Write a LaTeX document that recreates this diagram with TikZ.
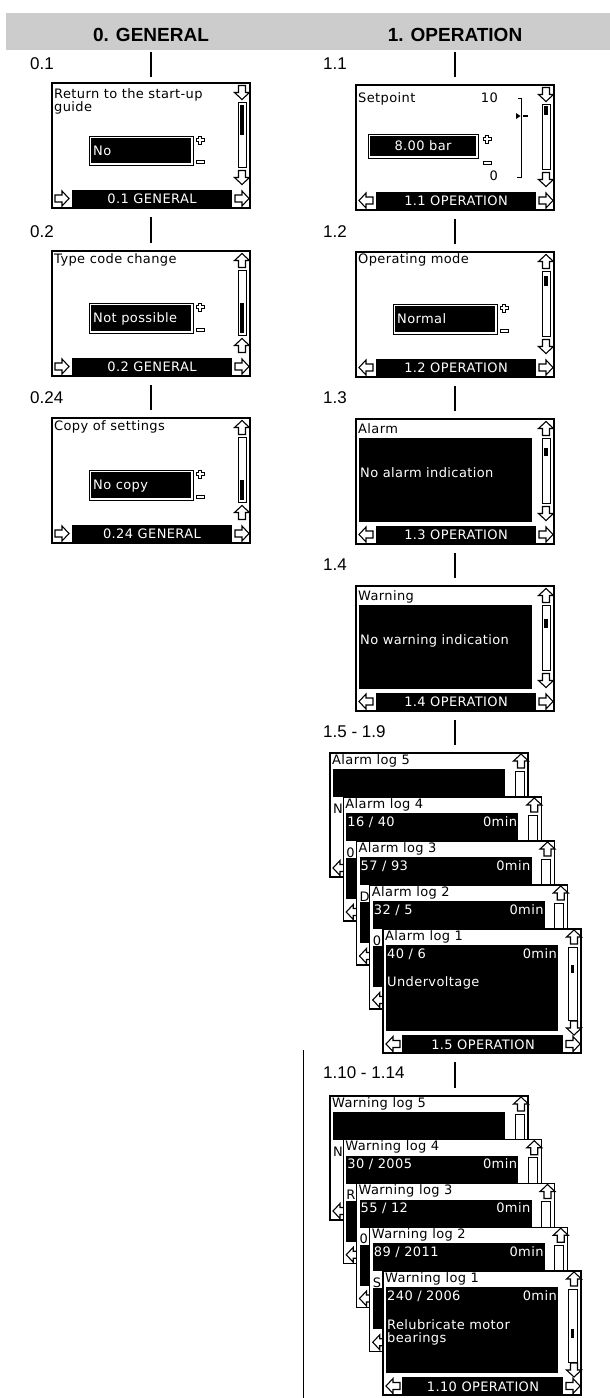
\documentclass[tikz,border=0pt]{standalone}
\usepackage{fontspec}
\setmainfont{Liberation Sans}
\newfontfamily\lcd{DejaVu Sans}[LetterSpace=3]
\usetikzlibrary{positioning}
\definecolor{bandgray}{RGB}{204,204,204}

\tikzset{
  pics/lcdarrow/.style={code={
    \draw[fill=white, line width=1.1pt]
      (0,-7) -- (7.5,0) -- (3.5,0) -- (3.5,7) -- (-3.5,7) -- (-3.5,0) -- (-7.5,0) -- cycle;
  }},
  pics/lcdplus/.style={code={
    \draw[line width=0.8pt] (-1.5,-4) -- (1.5,-4) -- (1.5,-1.5) -- (4,-1.5) -- (4,1.5) -- (1.5,1.5)
      -- (1.5,4) -- (-1.5,4) -- (-1.5,1.5) -- (-4,1.5) -- (-4,-1.5) -- (-1.5,-1.5) -- cycle;
  }},
  pics/lcdminus/.style={code={
    \draw[line width=0.8pt] (-4,-1.5) rectangle (4,1.5);
  }},
}

% scroll bar, arrows and title bar of a menu screen
\newcommand{\menuparts}[7]{%
  \begin{scope}[shift={(#1.north west)}]
    \pic[rotate=#2] at (190,9.5) {lcdarrow};
    \draw[line width=1pt] (186,19) rectangle (194,84);
    \fill (188.3,#5) rectangle (191.7,#6);
    \pic[rotate=#3] at (190,94.5) {lcdarrow};
    \fill (20,107) rectangle (180,124);
    \node[lcdtxt, text=white, anchor=base] (#1-bar) at (100,120.5) {#7};
    \pic[rotate=#4] at (10,115.5) {lcdarrow};
    \pic[rotate=-90] at (190,115.5) {lcdarrow};
  \end{scope}
}

% one card of a log stack
\newcommand{\logcard}[4]{%
  \node[card] (#1) at (#2) {};
  \begin{scope}[shift={(#1.north west)}]
    \node[lcdtxt, anchor=base west] (#1-title) at (2,11) {#3};
    \fill (3,16) rectangle (175,44);
    \ifnum#4=1 \fill (3,61) rectangle (175,102); \fi
    \pic at (191,8) {lcdarrow};
    \draw[line width=1pt] (185,18) rectangle (194,91);
    \pic[rotate=90] at (10,115) {lcdarrow};
  \end{scope}
}
\newcommand{\logrow}[2]{%
  \begin{scope}[shift={(#1.north west)}]
    \node[lcdtxt, text=white, anchor=base west] (#1-row) at (4,29) {#2};
    \node[lcdtxt, text=white, anchor=base east] (#1-min) at (174,29) {0min};
  \end{scope}
}

\begin{document}
\begin{tikzpicture}[x=1pt, y=-1pt,
    band/.style={fill=bandgray, minimum width=604pt, minimum height=37pt, inner sep=0pt},
    colhead/.style={font=\fontsize{19}{22}\selectfont\bfseries, inner sep=0pt, anchor=base},
    steplbl/.style={font=\fontsize{17}{20}\selectfont, inner sep=0pt, anchor=west},
    screen/.style={draw, line width=1.2pt, fill=white, minimum width=198pt,
      minimum height=125pt, inner sep=0pt, outer sep=0pt},
    card/.style={screen, minimum height=124pt, anchor=north west},
    lcdtxt/.style={font=\lcd\fontsize{13}{15}\selectfont, inner sep=0pt},
    flow/.style={line width=2pt, shorten <=9pt, shorten >=8pt}]
  \useasboundingbox (0,0) rectangle (610,1398);

  % column heads
  \node[band] (hdr) at (308,31.5) {};
  \node[colhead] (h0) at (151,41) {0. GENERAL};
  \node[colhead] (h1) at (455,41) {1. OPERATION};

  % 0. GENERAL
  \node[screen] (s01) at (151,145.5) {};
  \node[screen, below=43pt of s01] (s02) {};
  \node[screen, below=42pt of s02] (s03) {};
  \node[steplbl] (l01) at (30,64) {0.1};
  \node[steplbl] (l02) at (30,232) {0.2};
  \node[steplbl] (l03) at (30,398) {0.24};

  \begin{scope}[shift={(s01.north west)}]
    \node[lcdtxt, anchor=base west] (s01-t1) at (2,15) {Return to the start-up};
    \node[lcdtxt, anchor=base west] (s01-t2) at (2,28) {guide};
    \draw[line width=1pt] (37,53) rectangle (141,82);
    \fill (39,55) rectangle (139,80);
    \node[lcdtxt, text=white, anchor=base west] (s01-val) at (41,72) {No};
    \pic at (148,57) {lcdplus};
    \pic at (148,79) {lcdminus};
  \end{scope}
  \menuparts{s01}{180}{180}{-90}{22}{52}{0.1 GENERAL}

  \begin{scope}[shift={(s02.north west)}]
    \node[lcdtxt, anchor=base west] (s02-t1) at (2,12) {Type code change};
    \draw[line width=1pt] (37,52) rectangle (141,82);
    \fill (39,54) rectangle (139,80);
    \node[lcdtxt, text=white, anchor=base west] (s02-val) at (41,71.5) {Not possible};
    \pic at (148,56) {lcdplus};
    \pic at (148,79) {lcdminus};
  \end{scope}
  \menuparts{s02}{0}{0}{-90}{52}{82}{0.2 GENERAL}

  \begin{scope}[shift={(s03.north west)}]
    \node[lcdtxt, anchor=base west] (s03-t1) at (2,12) {Copy of settings};
    \draw[line width=1pt] (37,52) rectangle (141,82);
    \fill (39,54) rectangle (139,80);
    \node[lcdtxt, text=white, anchor=base west] (s03-val) at (41,71.5) {No copy};
    \pic at (148,56) {lcdplus};
    \pic at (148,79) {lcdminus};
  \end{scope}
  \menuparts{s03}{0}{0}{-90}{62}{82}{0.24 GENERAL}

  % 1. OPERATION
  \node[screen] (s11) at (455,147.5) {};
  \node[screen, below=42pt of s11] (s12) {};
  \node[screen, below=42pt of s12] (s13) {};
  \node[screen, below=42pt of s13] (s14) {};
  \node[steplbl] (l11) at (323,64) {1.1};
  \node[steplbl] (l12) at (323,232) {1.2};
  \node[steplbl] (l13) at (323,398) {1.3};
  \node[steplbl] (l14) at (323,565) {1.4};
  \node[steplbl] (l15) at (323,732) {1.5 - 1.9};
  \node[steplbl] (l110) at (323,1073) {1.10 - 1.14};

  \begin{scope}[shift={(s11.north west)}]
    \node[lcdtxt, anchor=base west] (s11-t1) at (2,17) {Setpoint};
    \node[lcdtxt, anchor=base east] (s11-max) at (142,17) {10};
    \node[lcdtxt, anchor=base east] (s11-min) at (142,95) {0};
    \draw[line width=1pt] (162,13) -- (165,13) -- (165,92) -- (161,92);
    \fill (160,28) -- (164.5,31) -- (160,34) -- cycle;
    \draw[line width=2pt] (167,31) -- (172,31);
    \draw[line width=1pt] (12,49) rectangle (122,73);
    \fill (14,51) rectangle (120,71);
    \node[lcdtxt, text=white, anchor=base] (s11-val) at (67,65.5) {8.00 bar};
    \pic at (131,54) {lcdplus};
    \pic at (131,78) {lcdminus};
  \end{scope}
  \menuparts{s11}{180}{180}{90}{21}{30}{1.1 OPERATION}

  \begin{scope}[shift={(s12.north west)}]
    \node[lcdtxt, anchor=base west] (s12-t1) at (2,11.5) {Operating mode};
    \draw[line width=1pt] (37,52) rectangle (141,82);
    \fill (39,54) rectangle (139,80);
    \node[lcdtxt, text=white, anchor=base west] (s12-val) at (41,71.5) {Normal};
    \pic at (148,56) {lcdplus};
    \pic at (148,79) {lcdminus};
  \end{scope}
  \menuparts{s12}{0}{180}{90}{24}{34}{1.2 OPERATION}

  \begin{scope}[shift={(s13.north west)}]
    \node[lcdtxt, anchor=base west] (s13-t1) at (2,14.5) {Alarm};
    \fill (3,19) rectangle (176,103);
    \node[lcdtxt, text=white, anchor=base west] (s13-val) at (4,58) {No alarm indication};
  \end{scope}
  \menuparts{s13}{0}{180}{90}{29}{37}{1.3 OPERATION}

  \begin{scope}[shift={(s14.north west)}]
    \node[lcdtxt, anchor=base west] (s14-t1) at (2,14.5) {Warning};
    \fill (3,19) rectangle (176,103);
    \node[lcdtxt, text=white, anchor=base west] (s14-val) at (4,58) {No warning indication};
  \end{scope}
  \menuparts{s14}{0}{180}{90}{33}{42}{1.4 OPERATION}

  % alarm log stack
  \logcard{al5}{330,753}{Alarm log 5}{0}
  \node[lcdtxt, anchor=base west] (al5-cut) at ([shift={(3,60)}]al5.north west) {N};
  \logcard{al4}{343.25,797}{Alarm log 4}{1}
  \logrow{al4}{16 / 40}
  \node[lcdtxt, anchor=base west] (al4-cut) at ([shift={(3,60)}]al4.north west) {0};
  \logcard{al3}{356.5,841}{Alarm log 3}{1}
  \logrow{al3}{57 / 93}
  \node[lcdtxt, anchor=base west] (al3-cut) at ([shift={(3,60)}]al3.north west) {D};
  \logcard{al2}{369.75,885}{Alarm log 2}{1}
  \logrow{al2}{32 / 5}
  \node[lcdtxt, anchor=base west] (al2-cut) at ([shift={(3,60)}]al2.north west) {0};
  \logcard{al1}{383,929}{Alarm log 1}{1}
  \logrow{al1}{40 / 6}
  \begin{scope}[shift={(al1.north west)}]
    \fill (3,40) rectangle (175,62);
    \node[lcdtxt, text=white, anchor=base west] (al1-val) at (4,57) {Undervoltage};
    \fill (187.8,36) rectangle (191.2,44);
    \pic[rotate=180] at (191,99) {lcdarrow};
    \fill (19,106) rectangle (180,124);
    \node[lcdtxt, text=white, anchor=base] (al1-bar) at (100,120) {1.5 OPERATION};
    \pic[rotate=-90] at (190,115) {lcdarrow};
  \end{scope}

  % warning log stack
  \logcard{wn5}{330,1096}{Warning log 5}{0}
  \node[lcdtxt, anchor=base west] (wn5-cut) at ([shift={(3,60)}]wn5.north west) {N};
  \logcard{wn4}{343.25,1139.75}{Warning log 4}{1}
  \logrow{wn4}{30 / 2005}
  \node[lcdtxt, anchor=base west] (wn4-cut) at ([shift={(3,60)}]wn4.north west) {R};
  \logcard{wn3}{356.5,1183.5}{Warning log 3}{1}
  \logrow{wn3}{55 / 12}
  \node[lcdtxt, anchor=base west] (wn3-cut) at ([shift={(3,60)}]wn3.north west) {0};
  \logcard{wn2}{369.75,1227.25}{Warning log 2}{1}
  \logrow{wn2}{89 / 2011}
  \node[lcdtxt, anchor=base west] (wn2-cut) at ([shift={(3,60)}]wn2.north west) {S};
  \logcard{wn1}{383,1271}{Warning log 1}{1}
  \logrow{wn1}{240 / 2006}
  \begin{scope}[shift={(wn1.north west)}]
    \fill (3,40) rectangle (175,62);
    \node[lcdtxt, text=white, anchor=base west] (wn1-val) at (4,58) {Relubricate motor};
    \node[lcdtxt, text=white, anchor=base west] (wn1-val2) at (4,71) {bearings};
    \fill (187.8,58) rectangle (191.2,67);
    \pic[rotate=180] at (191,99) {lcdarrow};
    \fill (19,106) rectangle (180,124);
    \node[lcdtxt, text=white, anchor=base] (wn1-bar) at (100,120) {1.10 OPERATION};
    \pic[rotate=-90] at (190,115) {lcdarrow};
  \end{scope}

  % flow lines
  \draw[flow, shorten <=2pt, shorten >=6pt] (hdr.south -| s01.north) -- (s01.north);
  \draw[flow] (s01.south) -- (s02.north);
  \draw[flow] (s02.south) -- (s03.north);
  \draw[flow, shorten <=2pt, shorten >=8pt] (hdr.south -| s11.north) -- (s11.north);
  \draw[flow] (s11.south) -- (s12.north);
  \draw[flow] (s12.south) -- (s13.north);
  \draw[flow] (s13.south) -- (s14.north);
  \draw[flow] (s14.south) -- (s14.south |- al5.north);
  \draw[flow] (s14.south |- al1.south) -- (s14.south |- wn5.north);

  \coordinate (v0) at (303,1050);
  \coordinate (v1) at (303,1398);
  \draw[line width=1pt] (v0) -- (v1);
\end{tikzpicture}
\end{document}
